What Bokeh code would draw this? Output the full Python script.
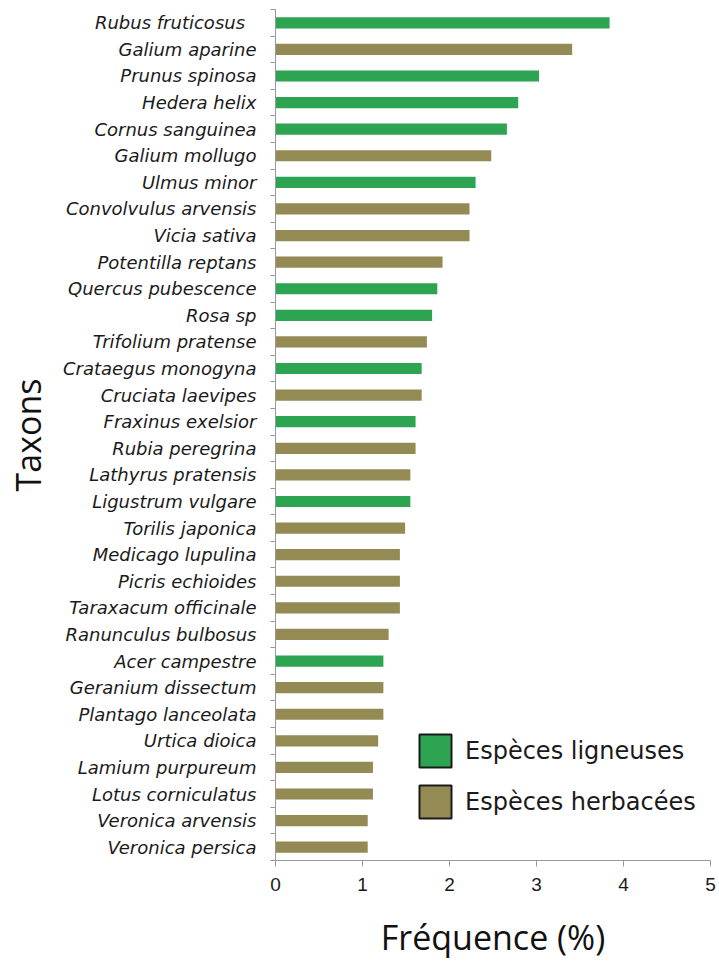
from bokeh.plotting import figure
from bokeh.models import (ColumnDataSource, Range1d, FixedTicker, Legend, LegendItem)
from bokeh.embed import file_html
from bokeh.resources import INLINE

taxa = ["Rubus fruticosus  ", "Galium aparine", "Prunus spinosa", "Hedera helix",
        "Cornus sanguinea", "Galium mollugo", "Ulmus minor", "Convolvulus arvensis",
        "Vicia sativa", "Potentilla reptans", "Quercus pubescence", "Rosa sp",
        "Trifolium pratense", "Crataegus monogyna", "Cruciata laevipes",
        "Fraxinus exelsior", "Rubia peregrina", "Lathyrus pratensis",
        "Ligustrum vulgare", "Torilis japonica", "Medicago lupulina",
        "Picris echioides", "Taraxacum officinale", "Ranunculus bulbosus",
        "Acer campestre", "Geranium dissectum", "Plantago lanceolata",
        "Urtica dioica", "Lamium purpureum", "Lotus corniculatus",
        "Veronica arvensis", "Veronica persica"]
freq = [3.84, 3.41, 3.03, 2.79, 2.66, 2.48, 2.30, 2.23, 2.23, 1.92, 1.86, 1.80,
        1.74, 1.68, 1.68, 1.61, 1.61, 1.55, 1.55, 1.49, 1.43, 1.43, 1.43, 1.30,
        1.24, 1.24, 1.24, 1.18, 1.12, 1.12, 1.06, 1.06]
kind = ["L", "H", "L", "L", "L", "H", "L", "H", "H", "H", "L", "L",
        "H", "L", "H", "L", "H", "H", "L", "H", "H", "H", "H", "H",
        "L", "H", "H", "H", "H", "H", "H", "H"]
x_ticks = [0, 1, 2, 3, 4, 5]
legend_labels = ["Espèces ligneuses", "Espèces herbacées"]

GREEN = "#2ca452"
OLIVE = "#948a54"

n = len(taxa)
pos = [n - 1 - i for i in range(n)]

def subset(k):
    idx = [i for i in range(n) if kind[i] == k]
    return ColumnDataSource(dict(y=[pos[i] for i in idx], right=[freq[i] for i in idx]))

p = figure(width=719, height=962, output_backend="svg", toolbar_location=None,
           x_range=Range1d(0, 5), y_range=Range1d(-0.5, n - 0.5),
           min_border_left=275, min_border_right=9, min_border_top=9,
           min_border_bottom=100)
p.outline_line_color = None
p.xgrid.visible = False
p.ygrid.visible = False
p.background_fill_color = "white"

p.hbar(y="y", right="right", left=0, height=0.42, source=subset("L"),
       fill_color=GREEN, line_color=None)
p.hbar(y="y", right="right", left=0, height=0.42, source=subset("H"),
       fill_color=OLIVE, line_color=None)

# legend proxies (no visible marks: NaN data)
nan = float("nan")
leg_l = p.hbar(y=[nan], right=[nan], left=0, height=0.4, fill_color=GREEN,
               line_color="#1a1a1a", line_width=2)
leg_h = p.hbar(y=[nan], right=[nan], left=0, height=0.4, fill_color=OLIVE,
               line_color="#1a1a1a", line_width=2)

legend = Legend(items=[LegendItem(label=legend_labels[0], renderers=[leg_l]),
                       LegendItem(label=legend_labels[1], renderers=[leg_h])],
                location=(140, 38), padding=0, margin=0, spacing=10,
                glyph_width=40, glyph_height=41, label_height=41,
                label_standoff=10, label_text_font="DejaVu Sans",
                label_text_font_size="24px", label_text_color="#1a1a1a",
                border_line_color=None, background_fill_alpha=0)
p.add_layout(legend)

# y axis
ya = p.yaxis[0]
ya.ticker = FixedTicker(ticks=pos, minor_ticks=[v - 0.5 for v in range(n + 1)])
ya.major_label_overrides = {pos[i]: taxa[i] for i in range(n)}
ya.major_tick_out = 0
ya.major_tick_in = 0
ya.minor_tick_out = 5
ya.minor_tick_in = 0
ya.minor_tick_line_color = "#999999"
ya.axis_line_color = "#999999"
ya.major_label_text_font = "DejaVu Sans"
ya.major_label_text_font_style = "italic"
ya.major_label_text_font_size = "18px"
ya.major_label_text_color = "#1a1a1a"
ya.major_label_standoff = 14
ya.axis_label = "Taxons"
ya.axis_label_text_font = "Open Sans"
ya.axis_label_text_font_style = "normal"
ya.axis_label_text_font_size = "34px"
ya.axis_label_text_color = "#111111"
ya.axis_label_standoff = 9

# x axis
xa = p.xaxis[0]
xa.ticker = FixedTicker(ticks=x_ticks)
xa.major_tick_out = 6
xa.major_tick_in = 0
xa.minor_tick_out = 0
xa.minor_tick_in = 0
xa.major_tick_line_color = "#999999"
xa.axis_line_color = "#999999"
xa.major_label_text_font = "Liberation Sans"
xa.major_label_text_font_size = "19px"
xa.major_label_text_color = "#1a1a1a"
xa.major_label_standoff = 11
xa.axis_label = "Fréquence (%)"
xa.axis_label_text_font = "Open Sans"
xa.axis_label_text_font_style = "normal"
xa.axis_label_text_font_size = "34px"
xa.axis_label_text_color = "#111111"
xa.axis_label_standoff = 20

open("out.html", "w").write(file_html(p, INLINE))
